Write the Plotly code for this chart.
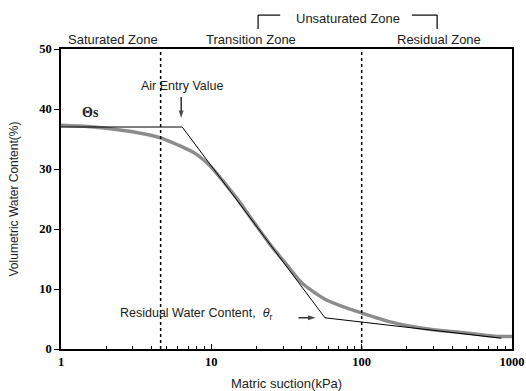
import numpy as np
import plotly.graph_objects as go

# Data
suction_kpa = [1, 1.5, 2, 3, 4.6, 6, 7.8, 10, 12.5, 15, 20, 25, 30, 40, 57, 80, 100, 150, 220, 300, 480, 800, 1000]
water_content = [37.3, 37.1, 36.8, 36.2, 35.2, 34.0, 32.6, 30.3, 27.4, 24.9, 20.5, 17.2, 14.8, 11.0, 8.3, 6.8, 6.0, 4.6, 3.7, 3.2, 2.7, 2.1, 2.1]

tangent_x = [1, 6.4, 57, 850]
tangent_y = [37.0, 37.0, 5.2, 1.8]

zone_bounds = [4.6, 100]
x_tickvals = [1, 10, 100, 1000]
x_ticktext = ["1", "10", "100", "1000"]
x_minor = [m * d for d in (1, 10, 100) for m in range(2, 10)]
y_tickvals = [0, 10, 20, 30, 40, 50]

# pointer arrows (tail, tip)
air_entry_arrow_x = [6.3, 6.3]
air_entry_arrow_y = [42.0, 38.5]
residual_arrow_x = [38.0, 49.4]
residual_arrow_y = [5.2, 5.2]

sans = "Liberation Sans, Arial, sans-serif"
serif = "Liberation Serif, Times New Roman, serif"

fig = go.Figure()

fig.add_trace(go.Scatter(x=suction_kpa, y=water_content, mode="lines",
                         line=dict(color="#8c8c8c", width=3.5, shape="spline", smoothing=0.6),
                         showlegend=False, hoverinfo="skip"))
fig.add_trace(go.Scatter(x=tangent_x, y=tangent_y, mode="lines",
                         line=dict(color="black", width=1),
                         showlegend=False, hoverinfo="skip"))

for ax_, ay_ in [(air_entry_arrow_x, air_entry_arrow_y), (residual_arrow_x, residual_arrow_y)]:
    fig.add_trace(go.Scatter(x=ax_, y=ay_, mode="lines+markers",
                             line=dict(color="black", width=1.2),
                             marker=dict(symbol="arrow", size=[0, 8], angleref="previous",
                                         color="black", line=dict(width=0)),
                             showlegend=False, hoverinfo="skip"))

for xb in zone_bounds:
    fig.add_shape(type="line", xref="x", yref="y", x0=xb, x1=xb, y0=0, y1=50,
                  line=dict(color="black", width=1.5, dash="dot"))

# Brackets for "Unsaturated Zone"
bk = dict(color="black", width=1.2)
fig.add_shape(type="line", xref="paper", yref="paper", x0=0.437, x1=0.437, y0=1.067, y1=1.113, line=bk)
fig.add_shape(type="line", xref="paper", yref="paper", x0=0.437, x1=0.486, y0=1.113, y1=1.113, line=bk)
fig.add_shape(type="line", xref="paper", yref="paper", x0=0.778, x1=0.834, y0=1.113, y1=1.113, line=bk)
fig.add_shape(type="line", xref="paper", yref="paper", x0=0.834, x1=0.834, y0=1.067, y1=1.113, line=bk)

tf = dict(family=sans, size=13, color="#222")
for txt, xp, yp in [("Saturated Zone", 0.115, 1.03), ("Transition Zone", 0.421, 1.03),
                    ("Residual Zone", 0.838, 1.03), ("Unsaturated Zone", 0.636, 1.10)]:
    fig.add_annotation(text=txt, xref="paper", yref="paper", x=xp, y=yp,
                       showarrow=False, font=tf, xanchor="center", yanchor="middle")

fig.add_annotation(text="Air Entry Value", x=np.log10(6.4), y=43.8, xref="x", yref="y",
                   showarrow=False, font=dict(family=sans, size=12.5, color="#222"))
fig.add_annotation(text="<b>Θs</b>", x=np.log10(1.56), y=39.5, xref="x", yref="y",
                   showarrow=False, font=dict(family=serif, size=14, color="#222"))
fig.add_annotation(text="Residual Water Content,  <i>θ</i><sub>r</sub>", x=np.log10(26), y=5.8,
                   xref="x", yref="y", xanchor="right", showarrow=False,
                   font=dict(family=sans, size=12.5, color="#222"))

fig.update_xaxes(type="log", range=[0, 3], tickvals=x_tickvals, ticktext=x_ticktext,
                 ticks="inside", ticklen=5, tickcolor="black",
                 minor=dict(tickmode="array", tickvals=x_minor, ticks="inside", ticklen=3,
                            tickcolor="black", showgrid=False),
                 showline=True, linecolor="black", linewidth=1.5, mirror=True,
                 showgrid=False, zeroline=False, automargin=False,
                 tickfont=dict(family=serif, size=12.5, color="black", weight="bold"),
                 title=dict(text="Matric suction(kPa)", font=dict(family=sans, size=13, color="#222"),
                            standoff=12))
fig.update_yaxes(range=[0, 50], tickvals=y_tickvals, ticks="outside", ticklen=5, tickcolor="black",
                 showline=True, linecolor="black", linewidth=1.5, mirror=True,
                 showgrid=False, zeroline=False, automargin=False,
                 tickfont=dict(family=serif, size=12.5, color="black", weight="bold"),
                 title=dict(text="Volumetric Water Content(%)", font=dict(family=sans, size=12, color="#222"),
                            standoff=18))

fig.update_layout(width=526, height=391, margin=dict(l=61, r=14, t=49, b=42),
                  plot_bgcolor="white", paper_bgcolor="white")

fig.write_html("out.html", config={"displayModeBar": False},
               post_script="document.body.style.margin='0';document.body.style.overflow='hidden';")
